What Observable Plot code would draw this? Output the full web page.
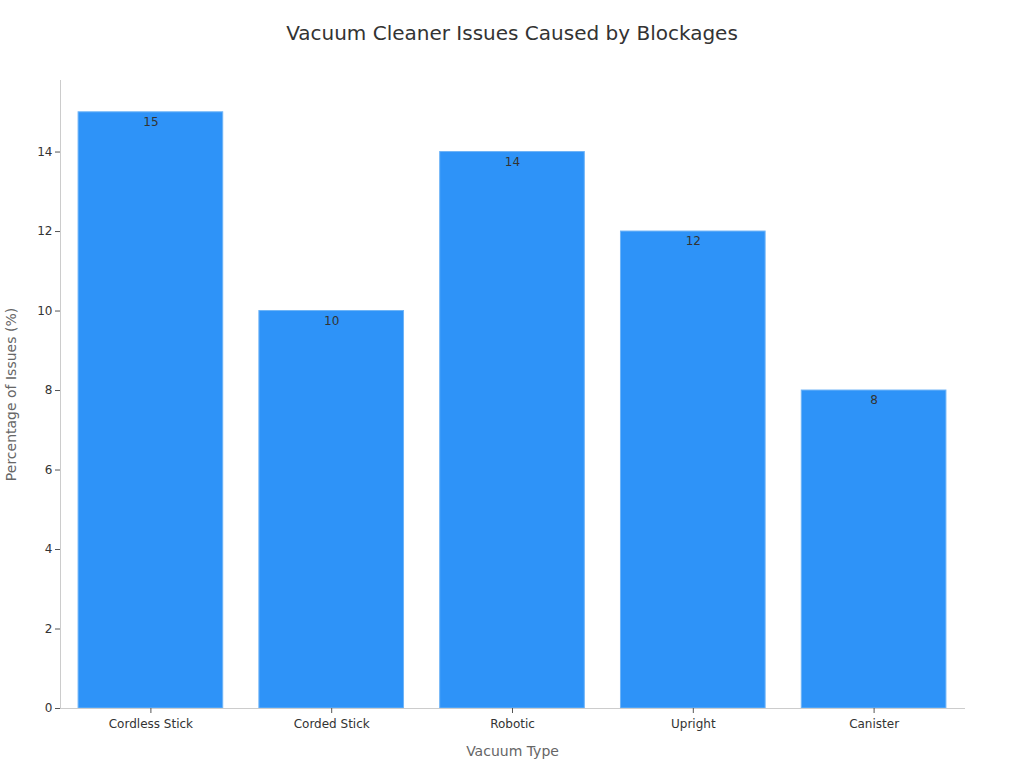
<!DOCTYPE html>
<html>
<head>
<meta charset="utf-8">
<script src="https://cdn.jsdelivr.net/npm/d3@7"></script>
<script src="https://cdn.jsdelivr.net/npm/@observablehq/plot@0.6"></script>
<style>
  html, body { margin: 0; padding: 0; background: #fff; }
  body { width: 1024px; height: 768px; overflow: hidden; font-family: "DejaVu Sans", sans-serif; }
  #title { height: 60px; line-height: 66px; text-align: center; font-size: 20px; color: #333; }
</style>
</head>
<body>
<div id="title">Vacuum Cleaner Issues Caused by Blockages</div>
<div id="chart"></div>
<script>
const categories = ["Cordless Stick", "Corded Stick", "Robotic", "Upright", "Canister"];
const values = [15, 10, 14, 12, 8];
const yTicks = [0, 2, 4, 6, 8, 10, 12, 14];

const data = categories.map((c, i) => ({type: c, value: values[i]}));

const chart = Plot.plot({
  width: 1024,
  height: 708,
  marginLeft: 60,
  marginRight: 60,
  marginTop: 20,
  marginBottom: 60,
  style: {fontFamily: "DejaVu Sans, sans-serif", fontSize: "12px", color: "#333", background: "#fff"},
  x: {domain: categories, paddingInner: 0.2, paddingOuter: 0.1, round: false, label: null},
  y: {domain: [0, 15.8], label: null},
  marks: [
    Plot.barY(data, {x: "type", y: "value", fill: "#2E93F8", stroke: "#6fb4f7", strokeWidth: 1}),
    Plot.text(data, {x: "type", y: "value", text: d => String(d.value), dy: 10, fill: "#333", fontSize: 12}),
    Plot.frame({anchor: "left", stroke: "#ccc"}),
    Plot.frame({anchor: "bottom", stroke: "#ccc"}),
    Plot.axisY({ticks: yTicks, tickSize: 5, tickPadding: 3, stroke: "#555", fill: "#333", fontSize: 12, label: null}),
    Plot.axisX({tickSize: 5, tickPadding: 6, stroke: "#555", fill: "#333", fontSize: 12, label: null}),
    Plot.text(["Vacuum Type"], {frameAnchor: "bottom", dy: 47, fill: "#666", fontSize: 14}),
    Plot.text(["Percentage of Issues (%)"], {frameAnchor: "left", dx: -49, rotate: -90, textAnchor: "middle", fill: "#666", fontSize: 14})
  ]
});
document.getElementById("chart").appendChild(chart);
</script>
</body>
</html>
